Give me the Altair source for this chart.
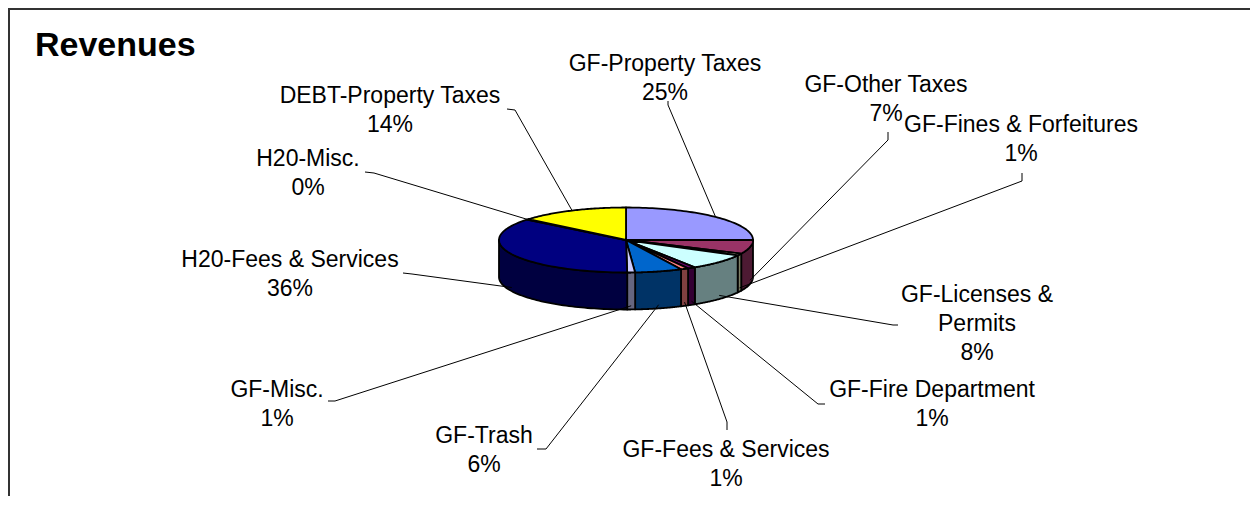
import altair as alt
import pandas as pd

# ---- data ----
categories = ["GF-Property Taxes", "GF-Other Taxes", "GF-Fines & Forfeitures",
              "GF-Licenses & Permits", "GF-Fire Department", "GF-Fees & Services",
              "GF-Trash", "GF-Misc.", "H20-Fees & Services", "H20-Misc.",
              "DEBT-Property Taxes"]
values = [25, 7, 1, 8, 1, 1, 6, 1, 36, 0.3, 14]
pct_labels = ["25%", "7%", "1%", "8%", "1%", "1%", "6%", "1%", "36%", "0%", "14%"]
label_names = ["GF-Property Taxes", "GF-Other Taxes", "GF-Fines & Forfeitures",
               "GF-Licenses &\nPermits", "GF-Fire Department", "GF-Fees & Services",
               "GF-Trash", "GF-Misc.", "H20-Fees & Services", "H20-Misc.",
               "DEBT-Property Taxes"]

# ---- styles ----
top_colors = ["#9999FF", "#993366", "#FFFFCC", "#CCFFFF", "#660066", "#FF8080",
              "#0066CC", "#CCCCFF", "#000080", "#FF00FF", "#FFFF00"]
side_colors = ["#4D4D80", "#4D1A33", "#808066", "#668080", "#330033", "#804040",
               "#003366", "#666680", "#000040", "#800080", "#808000"]

# ---- layout (page pixels) ----
label_x = [665, 886, 1021, 977, 932, 726, 484, 277, 290, 308, 390]
label_y = [71, 92, 132, 302, 397, 457, 443, 397, 267, 166, 103]
anchor_x = [668, 888, 1022, 898, 825, 727, 537, 328, 403, 365, 507]
anchor_y = [101, 132, 173, 325, 404, 430, 449, 401, 273, 172, 109]
bend_x = [668, 888, 1022, 893, 818, 727, 546, 335, 412, 374, 515]
bend_y = [105, 140, 181, 325, 404, 422, 449, 401, 274, 173, 110]

CX, CY, RX, RY, DEPTH, N = 626, 240, 127, 32.5, 37, 60
W, H = 1242, 488

df = pd.DataFrame({
    "name": categories,
    "value": values,
    "idx": list(range(len(categories))),
    "label": [n + "\n" + p for n, p in zip(label_names, pct_labels)],
    "lx": label_x, "ly": label_y,
    "ax": anchor_x, "ay": anchor_y,
    "bx": bend_x, "by": bend_y,
})

xs = alt.Scale(domain=[8, 8 + W], nice=False, zero=False)
ys = alt.Scale(domain=[8, 8 + H], nice=False, zero=False, reverse=True)

base = alt.Chart(df)


def angles(ch):
    return (ch.transform_joinaggregate(total="sum(value)")
              .transform_window(cum="sum(value)", sort=[alt.SortField("idx")], frame=[None, 0])
              .transform_calculate(
                  t1="2*PI*(datum.cum-datum.value)/datum.total",
                  t2="2*PI*datum.cum/datum.total"))


# side walls (front half of the ellipse)
side = (angles(base)
        .transform_calculate(s1="max(datum.t1, PI/2)", s2="min(datum.t2, 3*PI/2)")
        .transform_filter("datum.s2 > datum.s1")
        .transform_calculate(seq=f"sequence(0,{2 * N + 2})")
        .transform_flatten(["seq"], as_=["k"])
        .transform_calculate(
            t=f"datum.k<={N} ? datum.s1+(datum.s2-datum.s1)*datum.k/{N} : datum.s2-(datum.s2-datum.s1)*(datum.k-{N + 1})/{N}",
            px=f"{CX}+{RX}*sin(datum.t)",
            py=f"{CY}-{RY}*cos(datum.t)+(datum.k>{N}?{DEPTH}:0)")
        .mark_line(interpolate="linear-closed", stroke="black", strokeWidth=1.8, strokeJoin="round")
        .encode(x=alt.X("px:Q", scale=xs, axis=None),
                y=alt.Y("py:Q", scale=ys, axis=None),
                order="k:Q", detail="name:N",
                fill=alt.Fill("name:N", scale=alt.Scale(domain=categories, range=side_colors), legend=None)))

# top face
top = (angles(base)
       .transform_calculate(seq=f"sequence(0,{N + 2})")
       .transform_flatten(["seq"], as_=["k"])
       .transform_calculate(
           t=f"datum.t1+(datum.t2-datum.t1)*(datum.k-1)/{N}",
           px=f"datum.k==0 ? {CX} : {CX}+{RX}*sin(datum.t)",
           py=f"datum.k==0 ? {CY} : {CY}-{RY}*cos(datum.t)")
       .mark_line(interpolate="linear-closed", stroke="black", strokeWidth=1.8, strokeJoin="round")
       .encode(x=alt.X("px:Q", scale=xs, axis=None),
               y=alt.Y("py:Q", scale=ys, axis=None),
               order="k:Q", detail="name:N",
               fill=alt.Fill("name:N", scale=alt.Scale(domain=categories, range=top_colors), legend=None)))

# leader lines
lead = (angles(base)
        .transform_calculate(mid="(datum.t1+datum.t2)/2")
        .transform_calculate(
            ex=f"{CX}+{RX}*sin(datum.mid)",
            ey=f"{CY}-{RY}*cos(datum.mid)+(cos(datum.mid)<0?{DEPTH * 0.9}:0)")
        .mark_rule(color="black", strokeWidth=1)
        .encode(x=alt.X("bx:Q", scale=xs, axis=None), y=alt.Y("by:Q", scale=ys, axis=None),
                x2="ex:Q", y2="ey:Q"))

tick = (base.mark_rule(color="black", strokeWidth=1)
        .encode(x=alt.X("ax:Q", scale=xs, axis=None), y=alt.Y("ay:Q", scale=ys, axis=None),
                x2="bx:Q", y2="by:Q"))

labels = (base.mark_text(align="center", baseline="alphabetic", fontSize=23,
                         font="Liberation Sans", lineBreak="\n", lineHeight=29, color="black")
          .encode(x=alt.X("lx:Q", scale=xs, axis=None), y=alt.Y("ly:Q", scale=ys, axis=None),
                  text="label:N"))

one = alt.Chart(pd.DataFrame({"t": ["Revenues"]}))
title = one.mark_text(align="left", baseline="alphabetic", fontSize=34, fontWeight="bold",
                      font="Liberation Sans", color="black").encode(
    x=alt.value(35 - 8), y=alt.value(56 - 8), text="t:N")

border_top = one.mark_rule(color="#333333", strokeWidth=2).encode(
    x=alt.value(0), x2=alt.value(W), y=alt.value(1))
border_left = one.mark_rule(color="#333333", strokeWidth=2).encode(
    x=alt.value(1), y=alt.value(0), y2=alt.value(H))

chart = (alt.layer(border_top, border_left, side, top, tick, lead, labels, title)
         .resolve_scale(fill="independent")
         .properties(width=W, height=H, padding=0, background="white",
                     autosize=alt.AutoSizeParams(type="none"))
         .configure_view(stroke=None))

chart.save("out.html", embed_options={"renderer": "svg", "actions": False})
